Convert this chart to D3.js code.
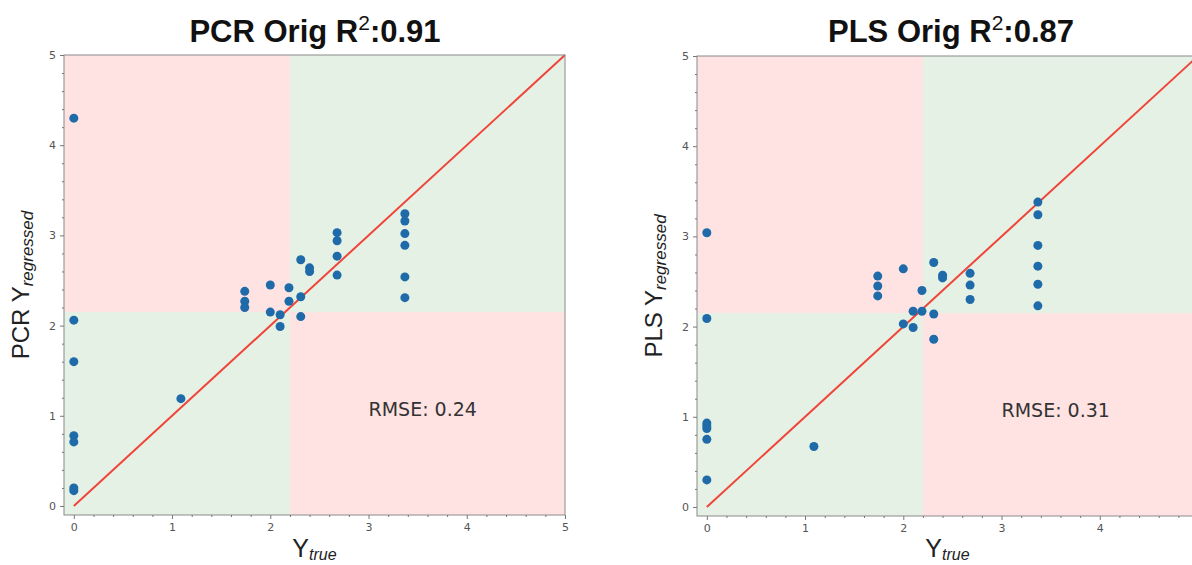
<!DOCTYPE html>
<html>
<head>
<meta charset="utf-8">
<script src="https://cdn.jsdelivr.net/npm/d3@7"></script>
<style>
  html, body { margin: 0; padding: 0; background: #fff; }
  svg { display: block; }
</style>
</head>
<body>
<svg id="chart" width="1192" height="565"></svg>
<script>
// ── Data ──────────────────────────────────────────────────────────────────────
const pcrTrue = [0, 0, 0, 0, 0, 0, 0, 1.09, 1.74, 1.74, 1.74, 2.0, 2.0, 2.1, 2.1,
  2.19, 2.19, 2.31, 2.31, 2.31, 2.4, 2.4, 2.68, 2.68, 2.68, 2.68,
  3.37, 3.37, 3.37, 3.37, 3.37, 3.37];
const pcrPred = [4.30, 2.06, 1.60, 0.78, 0.71, 0.20, 0.17, 1.19, 2.38, 2.27, 2.20, 2.45, 2.15, 2.12, 1.99,
  2.42, 2.27, 2.73, 2.32, 2.10, 2.64, 2.60, 3.03, 2.94, 2.77, 2.56,
  3.24, 3.16, 3.02, 2.89, 2.54, 2.31];

const plsTrue = [0, 0, 0, 0, 0, 0, 0, 1.09, 1.74, 1.74, 1.74, 2.0, 2.0, 2.1, 2.1,
  2.19, 2.19, 2.31, 2.31, 2.31, 2.4, 2.4, 2.68, 2.68, 2.68,
  3.37, 3.37, 3.37, 3.37, 3.37, 3.37];
const plsPred = [3.04, 2.09, 0.93, 0.90, 0.87, 0.75, 0.30, 0.67, 2.56, 2.45, 2.34, 2.64, 2.03, 2.17, 1.99,
  2.40, 2.17, 2.71, 2.14, 1.86, 2.57, 2.54, 2.59, 2.46, 2.30,
  3.38, 3.24, 2.90, 2.67, 2.47, 2.23];

const panelNames = ['PCR', 'PLS'];
const r2Values   = ['0.91', '0.87'];
const rmseValues = ['0.24', '0.31'];
const majorTicks = [0, 1, 2, 3, 4, 5];
const thresholdX = 2.2;
const thresholdY = 2.15;
const domainMin = -0.1;
const domainMax = 5;

// ── Layout ────────────────────────────────────────────────────────────────────
const WIDTH = 1192;
const PANELS = [
  { left: 64,  top: 55, width: 501, height: 460, titleX: 315, tx: pcrTrue, ty: pcrPred },
  { left: 697, top: 56, width: 501, height: 460, titleX: 951, tx: plsTrue, ty: plsPred },
];
const PINK  = '#ffe3e3';
const GREEN = '#e5f1e4';
const DOT   = '#1f6aa8';
const LINE  = '#f0443a';

const svg = d3.select('#chart');

PANELS.forEach((p, i) => {
  const x = d3.scaleLinear().domain([domainMin, domainMax]).range([p.left, p.left + p.width]);
  const y = d3.scaleLinear().domain([domainMin, domainMax]).range([p.top + p.height, p.top]);
  const g = svg.append('g');

  // quadrant shading
  const quads = [
    { x0: domainMin, x1: thresholdX, y0: thresholdY, y1: domainMax, c: PINK },
    { x0: thresholdX, x1: domainMax, y0: thresholdY, y1: domainMax, c: GREEN },
    { x0: domainMin, x1: thresholdX, y0: domainMin, y1: thresholdY, c: GREEN },
    { x0: thresholdX, x1: domainMax, y0: domainMin, y1: thresholdY, c: PINK },
  ];
  g.selectAll('rect.quad').data(quads).join('rect')
    .attr('class', 'quad')
    .attr('x', d => x(d.x0)).attr('y', d => y(d.y1))
    .attr('width', d => x(d.x1) - x(d.x0))
    .attr('height', d => y(d.y0) - y(d.y1))
    .attr('fill', d => d.c);

  // identity line
  g.append('line')
    .attr('x1', x(0)).attr('y1', y(0))
    .attr('x2', x(5)).attr('y2', y(5))
    .attr('stroke', LINE).attr('stroke-width', 2);

  // points
  g.selectAll('circle').data(p.tx.map((v, k) => [v, p.ty[k]])).join('circle')
    .attr('cx', d => x(d[0])).attr('cy', d => y(d[1]))
    .attr('r', 4.5).attr('fill', DOT);

  // frame
  g.append('rect')
    .attr('x', p.left).attr('y', p.top)
    .attr('width', p.width).attr('height', p.height)
    .attr('fill', 'none').attr('stroke', '#8a8a8a').attr('stroke-width', 1);

  // axes (labels that would fall off the page are left out)
  const visible = v => x(v) < WIDTH - 4;
  const minor = d3.range(0, 5.01, 0.2).filter(v => Math.abs(v - Math.round(v)) > 1e-6);
  const xAxis = g.append('g').attr('transform', `translate(0,${p.top + p.height})`);
  xAxis.call(d3.axisBottom(x).tickValues(majorTicks.filter(visible)).tickFormat(d3.format('d')).tickSize(4).tickPadding(4));
  xAxis.append('g').call(d3.axisBottom(x).tickValues(minor.filter(visible)).tickFormat('').tickSize(2));
  const yAxis = g.append('g').attr('transform', `translate(${p.left},0)`);
  yAxis.call(d3.axisLeft(y).tickValues(majorTicks).tickFormat(d3.format('d')).tickSize(4).tickPadding(4));
  yAxis.append('g').call(d3.axisLeft(y).tickValues(minor).tickFormat('').tickSize(2));
  [xAxis, yAxis].forEach(a => {
    a.selectAll('.domain').remove();
    a.selectAll('line').attr('stroke', '#777');
    a.selectAll('text').attr('fill', '#555')
      .style('font-family', '"DejaVu Sans", sans-serif').style('font-size', '11px');
  });

  const cx = p.left + p.width / 2;
  const cy = p.top + p.height / 2;

  // title
  const title = svg.append('text')
    .attr('x', p.titleX)
    .attr('y', 42)
    .attr('text-anchor', 'middle')
    .style('font-family', '"Liberation Sans", Arial, sans-serif')
    .style('font-weight', 'bold').style('font-size', '31px').attr('fill', '#111');
  title.append('tspan').text(`${panelNames[i]} Orig R`);
  title.append('tspan').text('2').attr('dy', -12).style('font-size', '21px').style('font-weight', 'normal');
  title.append('tspan').text(`:${r2Values[i]}`).attr('dy', 12);

  // x label
  const xl = svg.append('text')
    .attr('x', cx).attr('y', 557)
    .attr('text-anchor', 'middle')
    .style('font-family', '"Liberation Sans", Arial, sans-serif').attr('fill', '#222');
  xl.append('tspan').text('Y').style('font-size', '25px');
  xl.append('tspan').text('true').attr('dy', 3).style('font-size', '16px').style('font-style', 'italic');

  // y label
  const yl = svg.append('text')
    .attr('transform', `translate(${p.left - 35},${cy}) rotate(-90)`)
    .attr('text-anchor', 'middle')
    .style('font-family', '"Liberation Sans", Arial, sans-serif').attr('fill', '#222');
  yl.append('tspan').text(`${panelNames[i]} Y`).style('font-size', '24px');
  yl.append('tspan').text('regressed').attr('dy', 4).style('font-size', '17px').style('font-style', 'italic');

  // RMSE annotation
  svg.append('text')
    .attr('x', x(3)).attr('y', y(1))
    .style('font-family', '"DejaVu Sans", sans-serif').style('font-size', '19px')
    .attr('fill', '#333')
    .text(`RMSE: ${rmseValues[i]}`);
});
</script>
</body>
</html>
